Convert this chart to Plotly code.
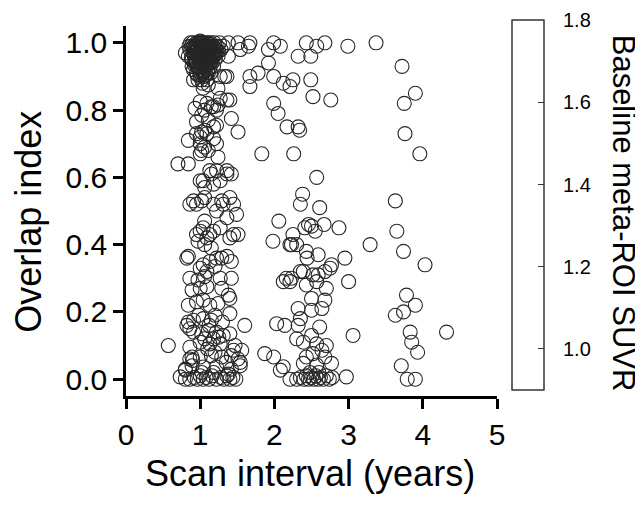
import plotly.graph_objects as go

# ---- data: scan interval (years) and overlap index ----
# dense cluster near 1.0 overlap / ~1 year
blob_x = [0.86,0.88,0.90,0.92,0.94,0.95,0.97,0.98,1.00,1.01,1.02,1.03,1.05,1.06,1.08,1.09,1.11,1.12,1.14,1.15,
          1.17,1.19,1.21,1.23,1.26,1.28,1.31,0.84,0.89,0.93,0.96,0.99,1.03,1.06,1.10,1.13,1.16,1.20,1.24,0.91,
          0.95,0.98,1.01,1.04,1.07,1.10,1.14,1.18,0.97,1.00,1.03,1.06,1.09,0.99,1.04,1.07,0.93,1.12,1.18,1.00,
          1.05,0.96,1.10,1.02,0.94,0.80,0.89]
blob_y = [0.98,0.99,1.00,0.97,0.99,1.00,0.98,1.00,0.99,1.00,0.97,0.99,1.00,0.98,0.99,1.00,0.97,0.99,1.00,0.98,
          0.99,1.00,0.98,0.99,1.00,0.98,0.99,0.96,0.95,0.94,0.96,0.95,0.94,0.96,0.95,0.94,0.96,0.95,0.96,0.92,
          0.91,0.93,0.92,0.91,0.93,0.92,0.91,0.93,0.89,0.90,0.88,0.90,0.89,0.97,0.985,0.965,0.985,0.965,0.975,1.005,
          0.995,0.995,0.985,0.955,0.965,0.97,0.93]
blob2_x = [0.87,0.90,0.93,0.96,0.99,1.02,1.05,1.08,1.11,1.14,1.17,1.20,1.23,
           0.88,0.91,0.94,0.97,1.00,1.03,1.06,1.09,1.12,1.15,1.18,1.21,
           0.92,0.95,0.98,1.01,1.04,1.07,1.10,1.13,1.16,
           0.96,0.99,1.02,1.05,1.08,1.11]
blob2_y = [1.00,0.985,0.995,0.98,1.00,0.99,0.975,0.995,1.00,0.985,0.97,0.99,0.975,
           0.955,0.97,0.95,0.965,0.975,0.96,0.945,0.97,0.955,0.945,0.96,0.965,
           0.935,0.94,0.925,0.935,0.94,0.925,0.935,0.925,0.94,
           0.905,0.915,0.905,0.915,0.905,0.91]
blob3_x = [0.91,0.94,0.97,1.00,1.03,1.06,1.09,1.12,1.15,1.18,
           0.92,0.95,0.98,1.01,1.04,1.07,1.10,1.13,1.16,1.19,
           0.93,0.96,0.99,1.02,1.05,1.08,1.11,1.14,0.85,1.25]
blob3_y = [0.99,0.975,0.99,0.98,1.00,0.985,0.98,0.995,0.99,0.985,
           0.96,0.985,0.955,0.965,0.975,0.95,0.965,0.975,0.955,0.97,
           0.945,0.93,0.945,0.935,0.955,0.94,0.95,0.945,0.99,0.975]

# column of scans at ~1 year interval
col1_x = [1.02,1.04,1.11,0.91,1.24,1.33,1.27,1.00,1.06,1.15,1.24,1.02,1.11,1.42,0.95,1.06,1.00,1.09,1.18,1.51,
          0.84,1.00,1.06,1.38,1.51,1.67,1.65,1.54,1.38,1.36,1.27,1.36,1.40,0.93,1.09,1.18,1.22,0.95,1.02,1.22,
          1.18,1.22,1.02,1.24,0.70,0.84,1.00,1.11,1.36,1.42,1.04,1.15,1.27,1.36,1.18,1.06,1.13,1.22,1.00,0.86,
          0.95,1.02,1.06,1.18,1.29,1.45,1.49,1.36,1.22,0.91,1.40,1.31,1.06,1.00,0.95,1.09,1.18,1.27,1.40,1.45,
          1.51,1.13,1.04,0.97,1.06,1.15,0.82,0.84,1.04,1.13,1.22,1.29,1.36,1.42,1.00,1.09,1.20,0.86,0.97,1.06,
          1.27,1.42,0.89,1.00,1.09,1.29,1.40,1.38,0.84,0.95,1.04,1.13,1.24,1.40,0.82,0.91,1.04,1.15,1.60,0.84,
          0.86,0.91,1.02,1.11,1.22,1.31,1.40,0.57,0.86,1.00,1.13,1.27,1.47,1.56,1.45,0.89,1.00,1.15,1.29,1.42,
          1.54,0.86,0.90,1.51,0.80,0.89,1.04,1.22,1.42,1.54,0.80,0.73,1.06,1.18,1.25,1.12,1.20,0.98,1.30,1.10,
          1.20,1.35]
col1_y = [0.89,0.865,0.875,0.89,0.865,0.90,0.835,0.825,0.80,0.81,0.815,0.785,0.77,0.775,0.765,0.74,0.72,0.73,0.75,0.735,
          0.71,0.70,0.69,1.00,1.00,1.00,0.99,0.98,0.96,0.90,0.90,0.83,0.83,0.805,0.82,0.81,0.80,0.73,0.735,0.755,
          0.715,0.70,0.68,0.66,0.64,0.64,0.67,0.68,0.61,0.61,0.59,0.61,0.59,0.62,0.58,0.57,0.62,0.62,0.59,0.52,
          0.52,0.53,0.54,0.52,0.53,0.52,0.49,0.48,0.50,0.53,0.54,0.52,0.47,0.44,0.43,0.42,0.44,0.45,0.42,0.43,
          0.43,0.43,0.45,0.41,0.40,0.39,0.36,0.365,0.34,0.35,0.36,0.36,0.365,0.35,0.33,0.32,0.335,0.30,0.295,0.305,
          0.30,0.30,0.265,0.27,0.275,0.27,0.24,0.25,0.22,0.23,0.235,0.22,0.225,0.195,0.16,0.175,0.18,0.175,0.16,0.17,
          0.15,0.14,0.135,0.145,0.14,0.13,0.135,0.10,0.095,0.11,0.105,0.105,0.10,0.086,0.086,0.066,0.066,0.07,0.066,0.07,
          0.05,0.06,0.056,0.06,0.03,0.04,0.036,0.036,0.03,0.04,0.027,0.007,0.12,0.12,0.125,0.16,0.19,0.19,0.17,0.09,
          0.08,0.05]
row1_x = [0.80,0.86,0.92,0.96,1.00,1.04,1.08,1.12,1.16,1.22,1.28,1.32,1.36,1.40,1.44,1.48,1.02,1.18,1.38]
row1_y = [0.00,0.00,0.005,0.00,0.01,0.00,0.005,0.00,0.01,0.00,0.005,0.00,0.01,0.00,0.005,0.00,0.02,0.02,0.015]

# scans at ~2-3 year interval
col2_x = [1.99,2.08,1.92,2.43,2.57,2.68,2.99,2.32,2.49,1.92,1.78,1.67,1.67,1.99,2.12,2.25,2.21,2.49,2.52,2.76,
          1.99,2.05,2.17,2.32,2.34,1.83,2.26,2.57,2.38,2.35,2.61,2.06,2.46,2.50,2.41,2.55,2.67,2.87,2.25,1.98,
          2.21,2.23,2.30,2.43,2.59,2.44,2.95,2.77,2.75,2.35,2.39,2.52,2.59,2.68,2.23,2.12,2.21,3.00,2.16,2.43,
          2.57,2.70,2.50,2.68,2.32,2.50,2.64,2.03,2.14,2.35,2.32,2.61,3.06,2.30,2.50,2.39,2.57,2.70,2.64,1.87,
          1.99,2.43,2.52,2.68,2.77,2.39,2.57,2.12,2.08,2.21,2.97]
col2_y = [1.00,0.99,0.98,1.00,0.99,1.00,0.99,0.96,0.96,0.94,0.91,0.90,0.87,0.90,0.88,0.89,0.87,0.89,0.84,0.83,
          0.82,0.79,0.75,0.75,0.74,0.67,0.67,0.60,0.55,0.52,0.51,0.47,0.46,0.455,0.45,0.44,0.46,0.45,0.43,0.41,
          0.40,0.40,0.40,0.38,0.37,0.36,0.36,0.34,0.33,0.32,0.32,0.31,0.31,0.32,0.30,0.29,0.29,0.29,0.30,0.28,
          0.29,0.27,0.24,0.235,0.21,0.205,0.21,0.165,0.16,0.18,0.16,0.155,0.13,0.12,0.13,0.11,0.105,0.10,0.086,0.076,
          0.066,0.066,0.076,0.066,0.047,0.047,0.042,0.037,0.027,0.00,0.007]
row2_x = [2.30,2.35,2.40,2.43,2.46,2.50,2.53,2.56,2.59,2.62,2.66,2.70,2.74,2.78,2.48,2.60]
row2_y = [0.00,0.005,0.00,0.01,0.00,0.005,0.00,0.01,0.00,0.005,0.00,0.01,0.00,0.005,0.02,0.02]

# scans at ~3.3-4.3 year interval
col3_x = [3.37,3.72,3.90,3.75,3.76,3.96,3.63,3.65,3.29,3.74,4.03,3.78,3.90,3.63,3.74,4.32,3.83,3.85,3.93,3.71,3.79,3.90]
col3_y = [1.00,0.93,0.85,0.82,0.73,0.67,0.53,0.44,0.40,0.38,0.34,0.25,0.22,0.19,0.20,0.14,0.14,0.11,0.08,0.04,0.00,0.00]

for gx, gy in [(blob_x, blob_y), (blob2_x, blob2_y), (blob3_x, blob3_y), (col1_x, col1_y),
               (row1_x, row1_y), (col2_x, col2_y), (row2_x, row2_y), (col3_x, col3_y)]:
    assert len(gx) == len(gy), (len(gx), len(gy))

scan_interval = blob_x + blob2_x + blob3_x + col1_x + row1_x + col2_x + row2_x + col3_x
overlap_index = blob_y + blob2_y + blob3_y + col1_y + row1_y + col2_y + row2_y + col3_y

x_ticks = [0, 1, 2, 3, 4, 5]
y_ticks = [0.0, 0.2, 0.4, 0.6, 0.8, 1.0]
suvr_range = [0.9, 1.8]
suvr_ticks = [1.0, 1.2, 1.4, 1.6, 1.8]

FONT = "Liberation Sans, Arial, sans-serif"
INK = "#262626"

fig = go.Figure()
fig.add_trace(go.Scatter(
    x=scan_interval, y=overlap_index, mode="markers", showlegend=False,
    marker=dict(symbol="circle-open", size=14, color=INK, line=dict(width=1.1, color=INK)),
))

cb_common = dict(x=1.04, xanchor="left", y=1.016, yanchor="top",
                 len=1.0, lenmode="fraction", thickness=32, thicknessmode="pixels",
                 xpad=0, ypad=0, outlinewidth=1, outlinecolor="#333",
                 tickvals=suvr_ticks)
# colour bar (white scale) with its labels, drawn from an empty trace
fig.add_trace(go.Scatter(
    x=[None], y=[None], mode="markers", showlegend=False, hoverinfo="skip",
    marker=dict(color=[suvr_range[0]], cmin=suvr_range[0], cmax=suvr_range[1],
                colorscale=[[0, "white"], [1, "white"]], showscale=True,
                colorbar=dict(**cb_common, ticktext=[f"{v:.1f}" for v in suvr_ticks],
                              ticks="outside", ticklen=15, tickcolor="rgba(0,0,0,0)",
                              tickfont=dict(family=FONT, size=20, color="black"))),
))
# same colour bar again, only to draw the inward tick marks
fig.add_trace(go.Scatter(
    x=[None], y=[None], mode="markers", showlegend=False, hoverinfo="skip",
    marker=dict(color=[suvr_range[0]], cmin=suvr_range[0], cmax=suvr_range[1],
                colorscale=[[0, "rgba(255,255,255,0)"], [1, "rgba(255,255,255,0)"]], showscale=True,
                colorbar=dict(**cb_common, showticklabels=False,
                              ticks="inside", ticklen=6, tickcolor="#333")),
))

# the page body adds an 8px offset, so the margins are reduced by 8px on the left/top
fig.update_layout(
    width=643, height=506,
    margin=dict(l=118, r=154, t=18, b=118, autoexpand=False),
    paper_bgcolor="white", plot_bgcolor="white",
    font=dict(family=FONT, color="black"),
    xaxis=dict(range=[0, 5], tickvals=x_ticks, showgrid=False, zeroline=False, automargin=False,
               showline=True, linewidth=2.5, linecolor="black",
               ticks="outside", ticklen=10, tickwidth=2.5, tickcolor="black",
               tickfont=dict(family=FONT, size=30, color="black")),
    yaxis=dict(range=[-0.05, 1.05], tickvals=y_ticks, tickformat=".1f", showgrid=False, zeroline=False,
               automargin=False,
               showline=True, linewidth=2.5, linecolor="black",
               ticks="outside", ticklen=10, tickwidth=2.5, tickcolor="black",
               tickfont=dict(family=FONT, size=30, color="black")),
    annotations=[
        dict(text="Scan interval (years)", xref="paper", yref="paper", x=0.496, y=-0.21,
             xanchor="center", yanchor="middle", showarrow=False,
             font=dict(family=FONT, size=36, color="black")),
        dict(text="Overlap index", xref="paper", yref="paper", x=-0.265, y=0.47,
             xanchor="center", yanchor="middle", textangle=-90, showarrow=False,
             font=dict(family=FONT, size=36, color="black")),
        dict(text="Baseline meta-ROI SUVR", xref="paper", yref="paper", x=1.34, y=0.495,
             xanchor="center", yanchor="middle", textangle=90, showarrow=False,
             font=dict(family=FONT, size=31, color="black")),
    ],
)

fig.write_html("out.html")
